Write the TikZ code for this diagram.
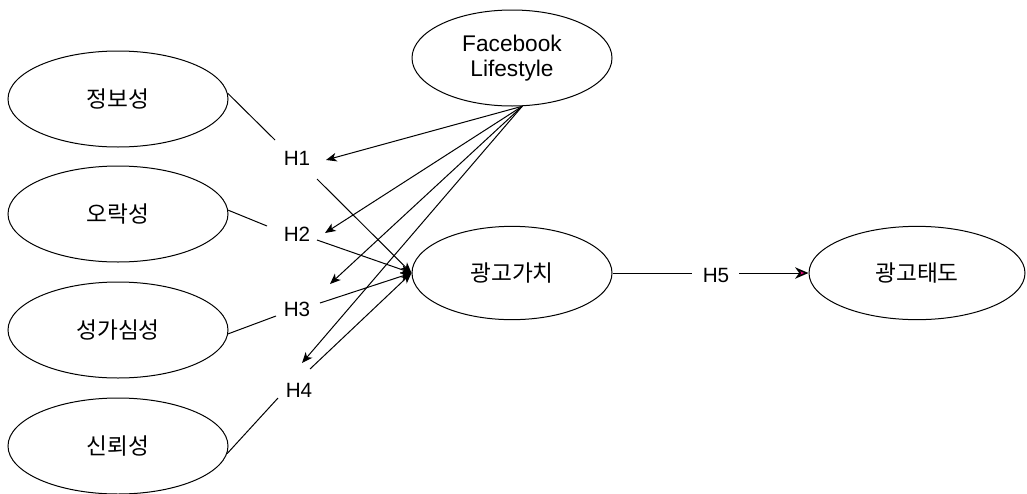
\documentclass[tikz,border=0pt]{standalone}
\usepackage{fontspec}
\setmainfont{Liberation Sans}
\newfontfamily\kr{Noto Sans CJK KR}
\usetikzlibrary{shapes.geometric,arrows.meta}
\tikzset{
  ell/.style={draw, ellipse, inner sep=0pt, line width=0.75pt},
  factor/.style={ell, minimum width=165pt, minimum height=72pt, font=\kr\fontsize{17pt}{20pt}\selectfont},
  hyp/.style={inner sep=0pt, font=\fontsize{15.5pt}{18pt}\selectfont},
  link/.style={line width=0.75pt},
  arr/.style={link, -{Stealth[length=8pt, width=6.5pt, inset=2.2pt]}},
  arrpink/.style={link, -{Stealth[length=10pt, width=8.5pt, inset=3pt, color=black, fill=magenta!85!red, line width=1.2pt]}}
}
\begin{document}
\begin{tikzpicture}[x=0.75pt, y=-0.75pt]
\useasboundingbox (0,0) rectangle (1027,493);

% constructs
\node[ell, minimum width=150pt, minimum height=72pt, align=center,
      font=\fontsize{17pt}{19pt}\selectfont] (fb) at (512,58) {Facebook\\Lifestyle};
\node[factor] (jb) at (118,99)  {정보성};
\node[factor] (or) at (118,214) {오락성};
\node[factor] (sg) at (118,330) {성가심성};
\node[factor] (sr) at (118,446) {신뢰성};
\node[factor, minimum width=150pt, minimum height=70pt] (gv) at (512,273) {광고가치};
\node[factor, minimum width=162pt, minimum height=70pt] (ga) at (917,273) {광고태도};

% hypothesis labels
\node[hyp] (h1) at (297,158) {H1};
\node[hyp] (h2) at (297,234) {H2};
\node[hyp] (h3) at (297,309) {H3};
\node[hyp] (h4) at (299,390) {H4};
\node[hyp] (h5) at (716,275) {H5};

% free ends beside the labels
\coordinate (h1a) at (275,140);
\coordinate (h2a) at (267,226);
\coordinate (h3a) at (276,316);
\coordinate (h4a) at (278,398);
\coordinate (h1b) at (317,179);
\coordinate (h2b) at (317,240);
\coordinate (h3b) at (320,303);
\coordinate (h4b) at (310,369);
\coordinate (h1c) at (326,160);
\coordinate (h2c) at (325,233);
\coordinate (h3c) at (330,284);
\coordinate (h4c) at (302,363);
\coordinate (h5a) at (692,273);
\coordinate (h5b) at (739,273);
\coordinate (fbo) at (fb.-78);

% factors to hypotheses
\draw[link] (jb.3) -- (h1a);
\draw[link] (or.2) -- (h2a);
\draw[link] (sg.-2) -- (h3a);
\draw[link] (sr.-4) -- (h4a);

% hypotheses to advertising value
\draw[arr] (h1b) -- (gv.west);
\draw[arr] (h2b) -- (gv.west);
\draw[arr] (h3b) -- (gv.west);
\draw[arr] (h4b) -- (gv.west);

% moderating paths
\draw[arr] (fbo) -- (h1c);
\draw[arr] (fbo) -- (h2c);
\draw[arr] (fbo) -- (h3c);
\draw[arr] (fbo) -- (h4c);

% advertising value to attitude
\draw[link] (gv.east) -- (h5a);
\draw[arrpink] (h5b) -- (ga.west);
\end{tikzpicture}
\end{document}
